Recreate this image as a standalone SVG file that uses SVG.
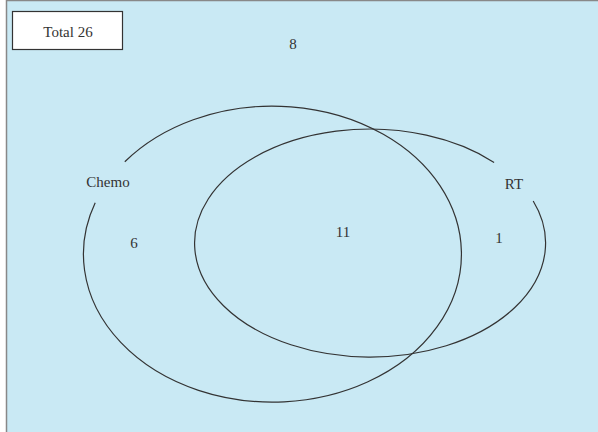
<svg xmlns="http://www.w3.org/2000/svg" width="598" height="432" viewBox="0 0 598 432">
<style>
.t{font-family:"Liberation Serif","Times New Roman",serif;font-size:15px;fill:#333;text-anchor:middle}
.c{fill:none;stroke:#333;stroke-width:1.2}
</style>
<rect x="6.5" y="0.5" width="600" height="440" fill="#c9e9f4" stroke="#888" stroke-width="1.5"/>
<g id="total">
<rect x="12.5" y="11.5" width="110" height="38" fill="#fff" stroke="#333" stroke-width="1.2"/>
<text class="t" x="68" y="37">Total 26</text>
</g>
<g id="connectors">
<path class="c" d="M 95.2 202.7 A 189 148 0 1 0 124.8 161.7"/>
<path class="c" d="M 533.2 201 A 175.5 114 0 1 1 494.1 162.4"/>
</g>
<g id="chemo">
<text class="t" x="108" y="187">Chemo</text>
<text class="t" x="134" y="248">6</text>
</g>
<g id="rt">
<text class="t" x="514" y="189">RT</text>
<text class="t" x="499" y="243">1</text>
</g>
<g id="both">
<text class="t" x="343" y="237">11</text>
</g>
<g id="none">
<text class="t" x="293" y="49">8</text>
</g>
</svg>
